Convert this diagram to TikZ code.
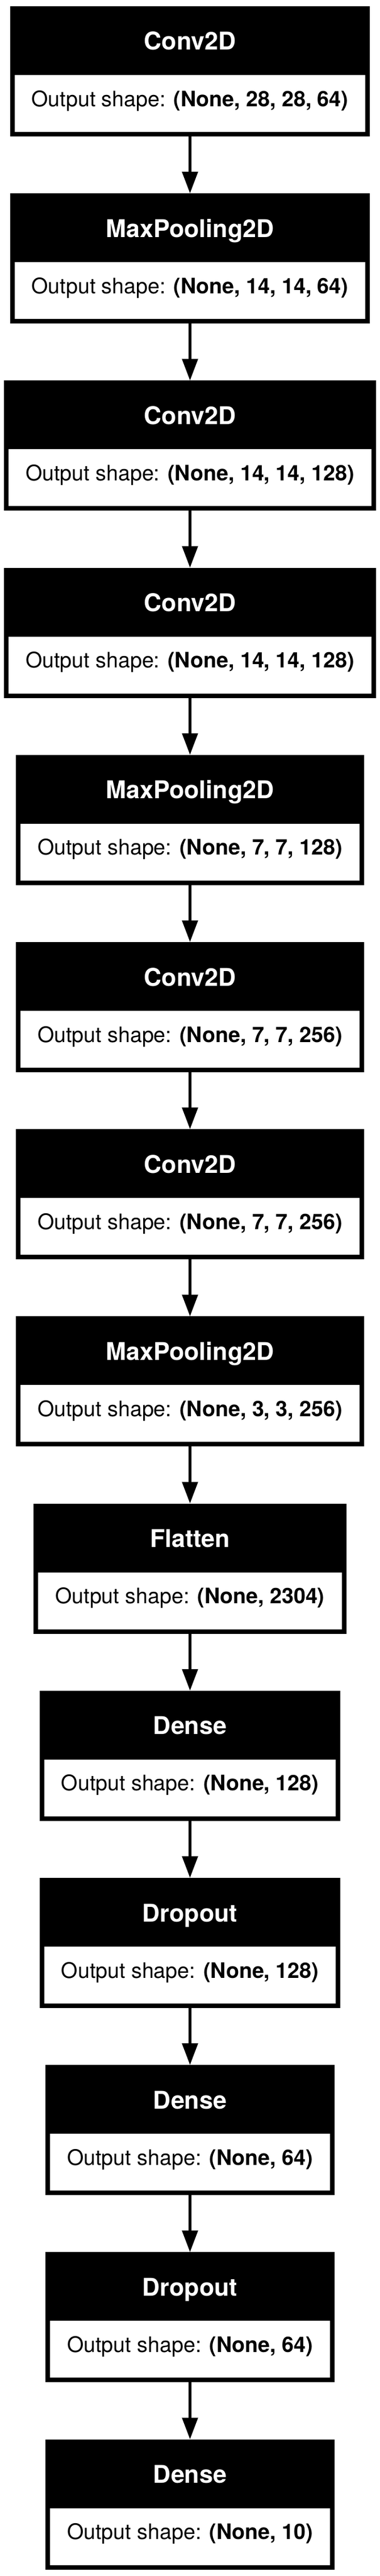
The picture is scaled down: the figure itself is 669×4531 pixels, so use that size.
\documentclass[tikz,border=0pt]{standalone}
\usepackage{fontspec}
\setmainfont{TeX Gyre Heros}
\usetikzlibrary{arrows.meta,calc,fit,backgrounds}

\tikzset{
  bodybox/.style={fill=white, inner xsep=30pt, inner ysep=0pt, minimum height=100pt,
    text height=30pt, text depth=20pt, font=\fontsize{37.6}{45}\selectfont, outer sep=0pt},
  titletext/.style={text=white, font=\fontsize{43}{52}\selectfont\bfseries, inner sep=0pt, anchor=base},
  layerbg/.style={fill=black, inner sep=0pt, outer sep=0pt},
  flowarrow/.style={-{Triangle[width=27pt,length=38pt]}, line width=5.5pt, black},
}

\newcommand\mylayer[4]{%
  \node[bodybox] (#1-b) at (334.5, {-(182+329.2*#2)}) {Output shape: \textbf{#4}};
  \coordinate (#1-sw) at ($(#1-b.south west)+(-8,-8)$);
  \coordinate (#1-ne) at ($(#1-b.north east)+(8,121)$);
  \begin{scope}[on background layer]
    \node[layerbg, fit=(#1-sw)(#1-ne)] (#1) {};
  \end{scope}
  \node[titletext] (#1-t) at ($(#1-b.north)+(0,44)$) {#3};
}

\begin{document}
\begin{tikzpicture}[x=1pt, y=1pt]
\useasboundingbox (0,0) rectangle (669,-4531);
\mylayer{L0}{0}{Conv2D}{(None, 28, 28, 64)}
\mylayer{L1}{1}{MaxPooling2D}{(None, 14, 14, 64)}
\mylayer{L2}{2}{Conv2D}{(None, 14, 14, 128)}
\mylayer{L3}{3}{Conv2D}{(None, 14, 14, 128)}
\mylayer{L4}{4}{MaxPooling2D}{(None, 7, 7, 128)}
\mylayer{L5}{5}{Conv2D}{(None, 7, 7, 256)}
\mylayer{L6}{6}{Conv2D}{(None, 7, 7, 256)}
\mylayer{L7}{7}{MaxPooling2D}{(None, 3, 3, 256)}
\mylayer{L8}{8}{Flatten}{(None, 2304)}
\mylayer{L9}{9}{Dense}{(None, 128)}
\mylayer{L10}{10}{Dropout}{(None, 128)}
\mylayer{L11}{11}{Dense}{(None, 64)}
\mylayer{L12}{12}{Dropout}{(None, 64)}
\mylayer{L13}{13}{Dense}{(None, 10)}
\draw[flowarrow] (L0.south) -- (L1.north);
\draw[flowarrow] (L1.south) -- (L2.north);
\draw[flowarrow] (L2.south) -- (L3.north);
\draw[flowarrow] (L3.south) -- (L4.north);
\draw[flowarrow] (L4.south) -- (L5.north);
\draw[flowarrow] (L5.south) -- (L6.north);
\draw[flowarrow] (L6.south) -- (L7.north);
\draw[flowarrow] (L7.south) -- (L8.north);
\draw[flowarrow] (L8.south) -- (L9.north);
\draw[flowarrow] (L9.south) -- (L10.north);
\draw[flowarrow] (L10.south) -- (L11.north);
\draw[flowarrow] (L11.south) -- (L12.north);
\draw[flowarrow] (L12.south) -- (L13.north);
\end{tikzpicture}
\end{document}
